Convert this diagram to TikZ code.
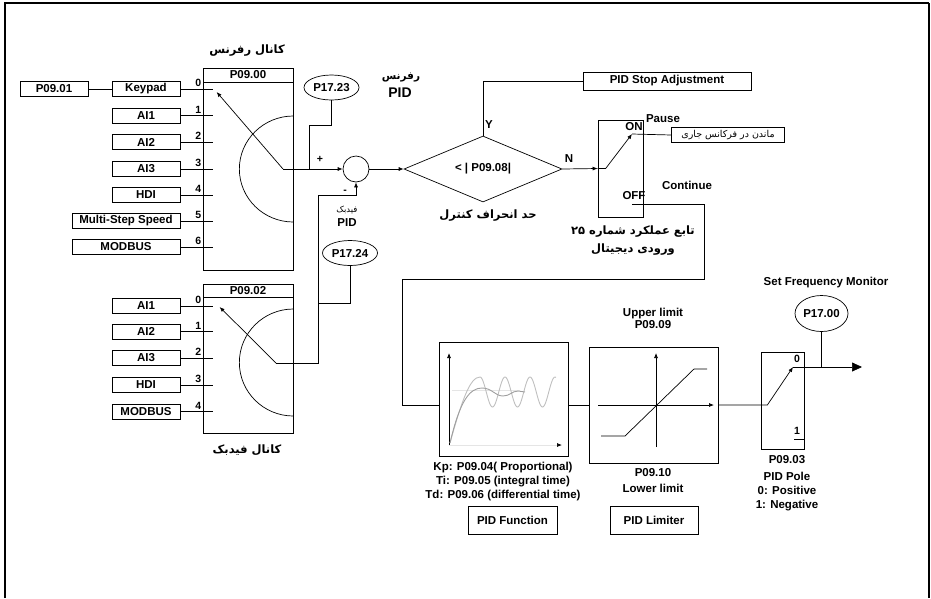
\documentclass[tikz,border=0pt]{standalone}
\usepackage{fontspec}
\setmainfont{Liberation Sans}
\newfontfamily\farsi[Script=Arabic]{DejaVu Sans}
\TeXXeTstate=1
\usetikzlibrary{arrows.meta,shapes.geometric,positioning,calc}
\newcommand{\rtl}[1]{\beginR #1\endR}

\begin{document}
\begin{tikzpicture}[x=1pt, y=-1pt, line width=0.7pt,
    box/.style={draw, minimum height=15, inner sep=0, font=\bfseries\fontsize{11.5}{13}\selectfont},
    sel/.style={draw, minimum width=90, inner sep=0},
    mon/.style={draw, ellipse, minimum width=55, minimum height=25, inner sep=0, font=\bfseries\fontsize{11.5}{13}\selectfont},
    lbl/.style={inner sep=0, align=center, font=\bfseries\fontsize{11.5}{14}\selectfont},
    num/.style={inner sep=0, font=\bfseries\fontsize{10.5}{12}\selectfont},
    fatitle/.style={inner sep=0, font=\farsi\bfseries\fontsize{11.5}{13}\selectfont},
    arr/.style={-{Latex[length=5pt,width=4pt]}}
]
\useasboundingbox (0,0) rectangle (931,598);
\draw[line width=2.2pt] (5,598) -- (5,3) -- (929,3);
\draw[line width=1.2pt] (929,3) -- (929,598);

\node[fatitle] (rtitle) at (247,51) {\rtl{کانال رفرنس}};
\node[sel, minimum height=202] (rsel) at (248,169) {};
\node[box, minimum width=90, minimum height=14, anchor=north] (rhead) at (rsel.north) {P09.00};
\node[box, minimum width=68] (p0901) at (54,89) {P09.01};
\node[box, minimum width=68] (kp) at (146,89) {Keypad};
\node[box, minimum width=68] (rai1) at (146,115.5) {AI1};
\node[box, minimum width=68] (rai2) at (146,142) {AI2};
\node[box, minimum width=68] (rai3) at (146,169) {AI3};
\node[box, minimum width=68] (rhdi) at (146,195) {HDI};
\node[box, minimum width=108] (rmss) at (126,221) {Multi-Step Speed};
\node[box, minimum width=108] (rmod) at (126,247) {MODBUS};
\draw (p0901) -- (kp);
\foreach \b [count=\i from 0] in {kp,rai1,rai2,rai3,rhdi,rmss,rmod} {
  \draw (\b.east) -- ($(\b.east -| rsel.west)+(10,0)$) coordinate (rc\i);
  \node[num, anchor=south east] (rn\i) at ($(\b.east -| rsel.west)+(-1,-2)$) {\i};
}
\coordinate (rw) at (283,169);
\draw[arr] (rw) -- ($(rc0)+(4,3)$);
\draw ($(rsel.east)+(0,-53)$) arc[start angle=90, end angle=270, x radius=54pt, y radius=53pt];

\node[draw, circle, minimum size=26, inner sep=0] (sum) at (356,169) {};
\draw[arr] (rw) -- (sum.west);
\coordinate (t23) at (309,169);
\node[mon] (m23) at (331.5,87.5) {P17.23};
\draw (t23) -- ++(0,-44) -| (m23.south);
\node[num] (plus) at (320,159) {+};
\node[num] (minus) at (345,192) {-};
\node[fatitle, font=\farsi\bfseries\fontsize{10.5}{12}\selectfont] (rref) at (401,77) {\rtl{رفرنس}};
\node[lbl, font=\bfseries\fontsize{14}{16}\selectfont] (rpid) at (400,93) {PID};

\node[fatitle] (ftitle) at (247,450) {\rtl{کانال فیدبک}};
\node[sel, minimum height=149] (fsel) at (248,358.5) {};
\node[box, minimum width=90, minimum height=13, anchor=north] (fhead) at (fsel.north) {P09.02};
\node[box, minimum width=68] (fai1) at (146,306) {AI1};
\node[box, minimum width=68] (fai2) at (146,331.5) {AI2};
\node[box, minimum width=68] (fai3) at (146,358) {AI3};
\node[box, minimum width=68] (fhdi) at (146,385) {HDI};
\node[box, minimum width=68] (fmod) at (146,411.5) {MODBUS};
\foreach \b [count=\i from 0] in {fai1,fai2,fai3,fhdi,fmod} {
  \draw (\b.east) -- ($(\b.east -| fsel.west)+(10,0)$) coordinate (fc\i);
  \node[num, anchor=south east] (fn\i) at ($(\b.east -| fsel.west)+(-1,-2)$) {\i};
}
\coordinate (fw) at (276,363);
\draw[arr] (fw) -- ($(fc0)+(7,1)$);
\draw ($(fsel.east)+(0,-49.5)$) arc[start angle=90, end angle=270, x radius=54pt, y radius=53.5pt];
\draw[arr] (fw) -- ++(42,0) |- ($(sum.south)+(0,13)$) -- (sum.south);
\node[mon] (m24) at (350,253) {P17.24};
\coordinate (t24) at (318,303);
\draw (m24.south) |- (t24);
\node[inner sep=0, font=\farsi\fontsize{8.5}{10}\selectfont] (fbk) at (347,210) {\rtl{فیدبک}};
\node[lbl] (fpid) at (347,223) {PID};

\node[draw, diamond, aspect=2.4, minimum width=158, minimum height=66, inner sep=0, font=\bfseries\fontsize{11.5}{13}\selectfont] (dev) at (483,169) {< | P09.08|};
\draw[arr] (sum.east) -- (dev.west);
\node[fatitle] (devt) at (488,216) {\rtl{حد انحراف کنترل}};
\node[lbl] (yes) at (489,125) {Y};
\node[lbl] (no) at (569,159) {N};
\node[box, minimum width=168, minimum height=18] (stop) at (667,81) {PID Stop Adjustment};
\draw (dev.north) |- (stop.west);

\node[draw, minimum width=45, minimum height=97, inner sep=0] (dsw) at (620.5,168.5) {};
\draw[arr] (dev.east) -- (dsw.west);
\coordinate (on) at (632,134);
\coordinate (off) at (632,204);
\draw[arr] (dsw.west) -- ++(8,0) -- (on);
\node[draw, minimum width=113, minimum height=15, inner sep=0, font=\farsi\fontsize{9.5}{10}\selectfont] (hold) at (728,135) {\rtl{ماندن در فرکانس جاری}};
\draw (on) -- (hold.west);
\node[lbl] (onl) at (634,127) {ON};
\node[lbl] (pause) at (663,119) {Pause};
\node[lbl] (offl) at (634,196) {OFF};
\node[lbl] (cont) at (687,185) {Continue};
\node[fatitle, align=center, font=\farsi\bfseries\fontsize{11.5}{18}\selectfont] (dint) at (633,241) {\rtl{تابع عملکرد شماره \beginL۲۵\endL}\\\rtl{ورودی دیجیتال}};

\node[draw, minimum width=129, minimum height=114, inner sep=0] (pidf) at (503.5,399) {};
\node[draw, minimum width=129, minimum height=116, inner sep=0] (lim) at (653.5,405) {};
\draw (off) -- ++(72,0) -- ++(0,75) -| ($(pidf.west |- lim.west)+(-36,0)$) -- (pidf.west |- lim.west);
\draw (pidf.east |- lim.west) -- (lim.west);

\draw[arr] (449,445) -- (449,353);
\draw[gray!20, -{Latex[length=5pt,width=4pt,color=black]}] (449,445) -- (562,445);
\draw[gray!20] (452,390) -- (520,390);
\draw[gray!50, line width=0.9pt] (450,443) .. controls (462,400) and (470,377) .. (480,377) -- plot[domain=480:556, samples=80] (\x,{392-15*cos(14.4*(\x-480))});
\draw[gray!75, line width=0.9pt] (450,443) .. controls (460,400) and (470,388) .. (482,388) .. controls (492,388) and (495,396) .. (503,396) .. controls (510,396) and (512,391) .. (518,391) -- (525,392);

\draw[arr] (656,447) -- (656,353);
\draw[arr] (598,405) -- (714,405);
\draw (601,436) -- (625,436) -- (694,369) -- (707,369);

\node[lbl, font=\bfseries\fontsize{11.5}{12}\selectfont] (upl) at (653,318) {Upper limit\\P09.09};
\node[lbl, font=\bfseries\fontsize{11.5}{16}\selectfont] (lol) at (653,481) {P09.10\\Lower limit};
\node[lbl] (gains) at (503,482) {Kp: P09.04( Proportional)\\Ti: P09.05 (integral time)\\Td: P09.06 (differential time)};
\node[box, minimum width=89, minimum height=28] (pfn) at (512.5,520) {PID Function};
\node[box, minimum width=88, minimum height=28] (plm) at (654,520) {PID Limiter};

\node[draw, minimum width=43, minimum height=97, inner sep=0] (pole) at (782.5,400.5) {};
\coordinate (p0) at (793,367);
\coordinate (p1) at (794,439);
\coordinate (out) at (862,367);
\draw[arr] (lim.east) -- ++(49,0) -- (p0);
\draw[-{Triangle[length=10pt,width=9pt]}] (p0) -- (out);
\draw (p1) -- (pole.east |- p1);
\node[num] (pz) at (797,359) {0};
\node[num] (pn) at (797,431) {1};
\node[mon, minimum width=53, minimum height=36] (m00) at (821.5,313.5) {P17.00};
\draw (m00.south) -- (m00.south |- p0);
\node[lbl] (sfm) at (826,283) {Set Frequency Monitor};
\node[lbl] (ppar) at (787,460) {P09.03};
\node[lbl] (pdesc) at (787,492) {PID Pole\\0: Positive\\1: Negative};
\end{tikzpicture}
\end{document}
